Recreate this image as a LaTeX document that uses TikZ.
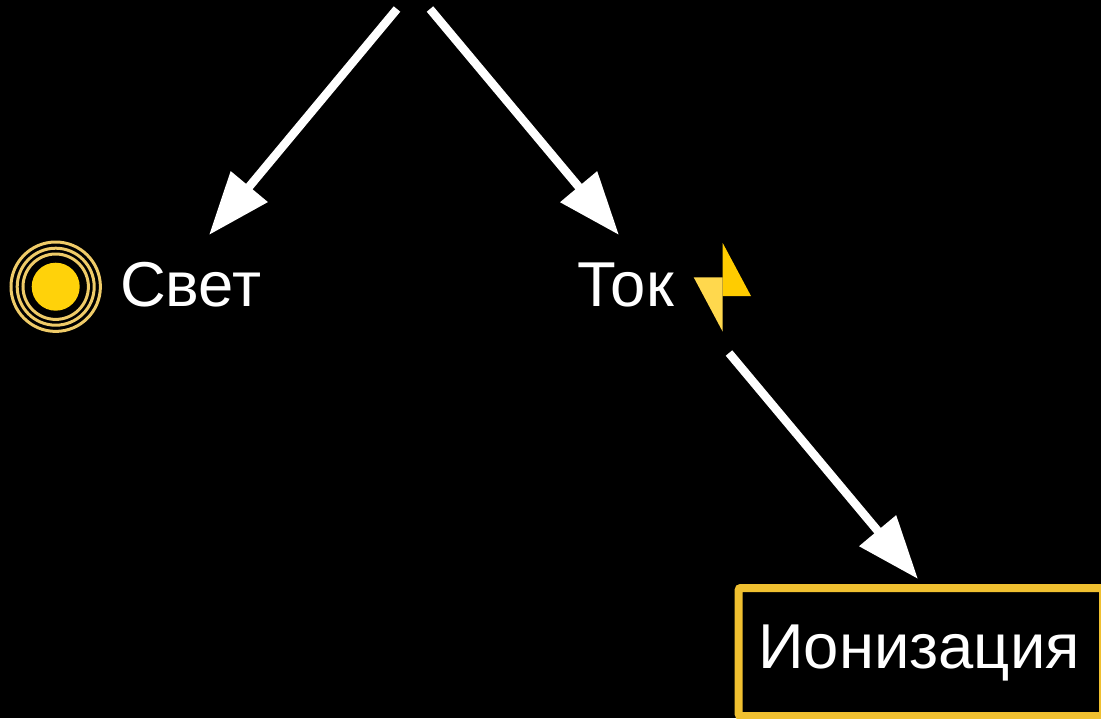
\documentclass[tikz,border=0pt]{standalone}
\usepackage{fontspec}
\setmainfont{Liberation Sans}
\usetikzlibrary{calc}
\usetikzlibrary{arrows.meta}
\definecolor{boxyellow}{HTML}{F0C030}
\definecolor{sunyellow}{HTML}{FFD20A}
\definecolor{ringyellow}{HTML}{EFCB68}
\definecolor{boltdark}{HTML}{FFCC00}
\definecolor{boltlight}{HTML}{FFD84D}
\tikzstyle{label} = [text=white, inner sep=0, font=\fontsize{63.4}{70}\selectfont]
\tikzstyle{boxnode} = [draw=boxyellow, line width=8pt, rounded corners=2pt, minimum width=364.3pt, minimum height=128pt, inner sep=0]
\tikzstyle{ringnode} = [draw=ringyellow, circle, line width=3pt, inner sep=0]
\tikzstyle{sunnode} = [fill=sunyellow, circle, inner sep=0, minimum size=48pt]
\tikzstyle{bigarrow} = [draw=white, line width=8.5pt, -{Triangle[length=63pt,width=46pt]}]
\begin{document}
\begin{tikzpicture}[x=1pt, y=-1pt]
    \path[use as bounding box, fill=black] (0,0) rectangle (1101,718);

    \node[sunnode] (sun_disk) at (55.7,286.7) {};
    \node[ringnode, minimum size=65.4pt] (sun_ringa) at (sun_disk) {};
    \node[ringnode, minimum size=77pt] (sun_ringb) at (sun_disk) {};
    \node[ringnode, minimum size=89.4pt] (sun_ringc) at (sun_disk) {};
    \node[label, anchor=base west] (svet_label) at (120,306) {Свет};

    \node[label, anchor=base west] (tok_label) at (577,306) {Ток};
    \fill[boltdark] (722.7,243) -- (751,296) -- (722.7,296) -- cycle;
    \fill[boltlight] (693.7,277.3) -- (722.7,277.3) -- (722.7,331.7) -- cycle;

    \node[boxnode] (ion_box) at (920.85,652) {};
    \node[label, anchor=base] (ion_label) at (919,668) {Ионизация};

    \coordinate (top_left) at (397,9);
    \coordinate (top_right) at (430,9);
    \coordinate (tok_tail) at (729,353);
    \coordinate (svet_tip) at ($(svet_label.base west)+(89,-71)$);
    \coordinate (tok_tip) at ($(tok_label.base west)+(42,-71)$);
    \coordinate (ion_tip) at ($(ion_box.north west)+(183.3,-5)$);

    \draw[bigarrow] (top_left) -- (svet_tip);
    \draw[bigarrow] (top_right) -- (tok_tip);
    \draw[bigarrow] (tok_tail) -- (ion_tip);
\end{tikzpicture}
\end{document}
